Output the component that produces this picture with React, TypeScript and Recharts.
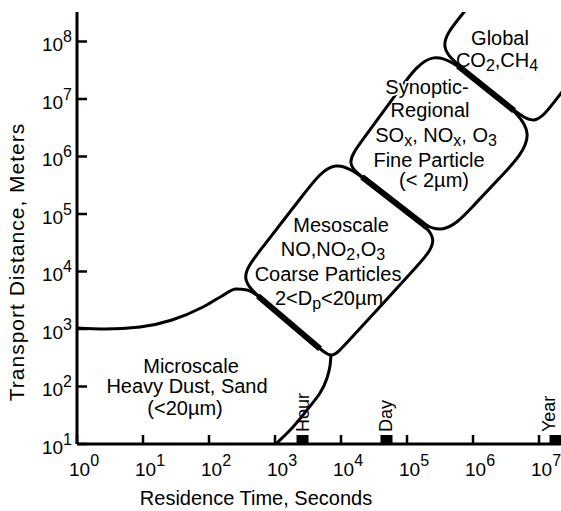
import React from 'react';
import { ComposedChart, Line, Scatter, XAxis, YAxis, Label } from 'recharts';

// ---- axes (log10 exponents) ----
const X_TICKS = [0, 1, 2, 3, 4, 5, 6, 7];
const X_TOP_TICKS = [1, 2, 3, 4, 5, 6, 7];
const Y_TICKS = [1, 2, 3, 4, 5, 6, 7, 8];
const X_DOMAIN: [number, number] = [0, 7.333];
const Y_DOMAIN: [number, number] = [1, 8.513];

// ---- region outlines: x = log10(seconds), y = log10(meters) ----
const mesoscaleOutline = [
  { x: 3.894, y: 6.026 }, { x: 4.456, y: 5.523 }, { x: 5.076, y: 4.970 }, { x: 5.530, y: 4.565 },
  { x: 5.141, y: 4.078 }, { x: 4.038, y: 2.696 }, { x: 3.864, y: 2.478 }, { x: 3.667, y: 2.670 },
  { x: 2.832, y: 3.487 }, { x: 2.439, y: 3.870 }, { x: 2.755, y: 4.337 }, { x: 3.458, y: 5.379 },
];
const synopticOutline = [
  { x: 5.379, y: 7.939 }, { x: 6.018, y: 7.353 }, { x: 6.324, y: 7.071 }, { x: 7.045, y: 6.409 },
  { x: 6.412, y: 5.638 }, { x: 5.998, y: 5.134 }, { x: 5.530, y: 4.565 }, { x: 4.991, y: 5.043 },
  { x: 4.373, y: 5.593 }, { x: 4.061, y: 5.870 }, { x: 4.292, y: 6.235 }, { x: 4.895, y: 7.181 },
];
const globalOutline = [
  { x: 6.292, y: 9.127 }, { x: 5.800, y: 8.421 }, { x: 5.439, y: 7.904 }, { x: 5.888, y: 7.489 },
  { x: 6.586, y: 6.840 }, { x: 6.939, y: 6.513 }, { x: 7.217, y: 6.927 }, { x: 7.864, y: 7.892 },
];
const microscaleTop = [
  { x: 0.0, y: 3.017 }, { x: 0.424, y: 3.0 }, { x: 0.955, y: 3.035 }, { x: 1.439, y: 3.157 },
  { x: 1.909, y: 3.383 }, { x: 2.197, y: 3.574 }, { x: 2.409, y: 3.696 }, { x: 2.576, y: 3.678 },
  { x: 2.742, y: 3.574 },
];
const microscaleRight = [
  { x: 3.848, y: 2.548 }, { x: 3.833, y: 2.357 }, { x: 3.788, y: 2.148 }, { x: 3.682, y: 1.887 },
  { x: 3.485, y: 1.591 }, { x: 3.273, y: 1.296 }, { x: 3.030, y: 1.017 }, { x: 2.985, y: 0.948 },
];
// shared (thick) boundaries
const microMesoBoundary = [{ x: 2.742, y: 3.574 }, { x: 3.682, y: 2.656 }];
const mesoSynopticBoundary = [{ x: 4.318, y: 5.647 }, { x: 5.318, y: 4.755 }];
const synopticGlobalBoundary = [{ x: 5.773, y: 7.577 }, { x: 6.621, y: 6.798 }];

// ---- time markers ----
const timeMarks = [
  { x: 3.417, y: 1, name: 'Hour' },
  { x: 4.689, y: 1, name: 'Day' },
  { x: 7.25, y: 1, name: 'Year' },
];
const timeMarkTextShift: Record<string, number> = { Hour: 0, Day: 0, Year: -7 };

// ---- region labels ----
type Seg = { t: string; sub?: boolean };
const microscaleText: Seg[][] = [[{ t: 'Microscale' }], [{ t: 'Heavy Dust, Sand' }], [{ t: '(<20µm)' }]];
const mesoscaleText: Seg[][] = [
  [{ t: 'Mesoscale' }],
  [{ t: 'NO,NO' }, { t: '2', sub: true }, { t: ',O' }, { t: '3', sub: true }],
  [{ t: 'Coarse Particles' }],
  [{ t: '2<D' }, { t: 'p', sub: true }, { t: '<20µm' }],
];
const synopticText: Seg[][] = [
  [{ t: 'Synoptic-' }],
  [{ t: 'Regional' }],
  [{ t: 'SO' }, { t: 'x', sub: true }, { t: ', NO' }, { t: 'x', sub: true }, { t: ', O' }, { t: '3', sub: true }],
  [{ t: 'Fine Particle' }],
  [{ t: '(< 2µm)' }],
];
const globalText: Seg[][] = [
  [{ t: 'Global' }],
  [{ t: 'CO' }, { t: '2', sub: true }, { t: ',CH' }, { t: '4', sub: true }],
];
const regionLabels = [
  { x: 1.682, y: 2.235, region: 'micro' },
  { x: 3.879, y: 4.687, region: 'meso' },
  { x: 5.364, y: 7.052, region: 'syn' },
  { x: 6.409, y: 7.939, region: 'global' },
];

const FONT = "'Liberation Sans', Arial, Helvetica, sans-serif";
const TEXT_SIZE = 20;
const SUB_SIZE = 16;
const SUB_SHIFT = 4;

const regionLayout: Record<string, { lines: Seg[][]; dx: number[]; dy: number[]; halo?: boolean }> = {
  micro: { lines: microscaleText, dx: [3, -1, -3], dy: [0, 20, 42] },
  meso: { lines: mesoscaleText, dx: [8, 0, -5, -4], dy: [0, 24, 49, 73] },
  syn: { lines: synopticText, dx: [-4, -1, 5, -2, 3], dy: [-2, 21, 46, 71, 91], halo: true },
  global: { lines: globalText, dx: [0, -3], dy: [0, 22] },
};

function renderSegs(segs: Seg[]) {
  let shift = 0;
  return segs.map((s, i) => {
    const target = s.sub ? SUB_SHIFT : 0;
    const dy = target - shift;
    shift = target;
    return (
      <tspan key={i} dy={dy} fontSize={s.sub ? SUB_SIZE : TEXT_SIZE}>
        {s.t}
      </tspan>
    );
  });
}

function RegionLabel(props: any) {
  const { cx, cy, payload } = props;
  const lay = regionLayout[payload.region];
  return (
    <g>
      {lay.lines.map((segs, i) => (
        <text
          key={i}
          x={cx + lay.dx[i]}
          y={cy + lay.dy[i]}
          textAnchor="middle"
          fontFamily={FONT}
          fontSize={TEXT_SIZE}
          fill="#000"
          stroke={lay.halo && i === 0 ? '#fff' : 'none'}
          strokeWidth={lay.halo && i === 0 ? 4 : 0}
          style={{ paintOrder: 'stroke' }}
        >
          {renderSegs(segs)}
        </text>
      ))}
    </g>
  );
}

function TimeMark(props: any) {
  const { cx, cy, payload } = props;
  const tx = cx + 6 + (timeMarkTextShift[payload.name] || 0);
  const ty = cy - 12;
  return (
    <g>
      <rect x={cx - 6} y={cy - 9} width={12} height={9} fill="#000" />
      <text x={tx} y={ty} transform={`rotate(-90 ${tx} ${ty})`} fontFamily={FONT} fontSize={18} fill="#000">
        {payload.name}
      </text>
    </g>
  );
}

function BottomTick(props: any) {
  const { x, y, payload } = props;
  return (
    <g>
      <line x1={x} y1={y} x2={x} y2={y - 9} stroke="#000" strokeWidth={2.5} />
      <text x={x - 8} y={y + 32} fontFamily={FONT} fontSize={19} fill="#000">
        10<tspan dy={-10} fontSize={16}>{payload.value}</tspan>
      </text>
    </g>
  );
}
function TopTick(props: any) {
  const { x, y } = props;
  return <line x1={x} y1={y} x2={x} y2={y + 9} stroke="#000" strokeWidth={2.5} />;
}
function LeftTick(props: any) {
  const { x, y, payload } = props;
  return (
    <g>
      <line x1={x} y1={y} x2={x + 10} y2={y} stroke="#000" strokeWidth={2.5} />
      <text x={x - 5} y={y + 10} textAnchor="end" fontFamily={FONT} fontSize={19} fill="#000">
        10<tspan dy={-9} fontSize={16}>{payload.value}</tspan>
      </text>
    </g>
  );
}
function RightTick(props: any) {
  const { x, y } = props;
  return <line x1={x} y1={y} x2={x - 8} y2={y} stroke="#000" strokeWidth={2.5} />;
}

const thin = { stroke: '#000', strokeWidth: 3, dot: false, activeDot: false, isAnimationActive: false } as const;
const thick = { stroke: '#000', strokeWidth: 6, dot: false, activeDot: false, isAnimationActive: false } as const;

export default function App() {
  return (
    <div style={{ position: 'absolute', left: 0, top: 0, background: '#fff' }}>
      <ComposedChart width={561} height={511} margin={{ top: 12, right: 0, bottom: 0, left: 0 }}>
        <XAxis
          xAxisId={0}
          dataKey="x"
          type="number"
          domain={X_DOMAIN}
          ticks={X_TICKS}
          interval={0}
          allowDataOverflow
          height={67}
          tickSize={0}
          tickMargin={0}
          tickLine={false}
          axisLine={{ stroke: '#000', strokeWidth: 3 }}
          tick={<BottomTick />}
        >
          <Label
            content={() => (
              <text x={256} y={505} textAnchor="middle" fontFamily={FONT} fontSize={20} fill="#000">
                Residence Time, Seconds
              </text>
            )}
          />
        </XAxis>
        <XAxis
          xAxisId="top"
          orientation="top"
          dataKey="x"
          type="number"
          domain={X_DOMAIN}
          ticks={X_TOP_TICKS}
          interval={0}
          allowDataOverflow
          height={0}
          tickSize={0}
          tickMargin={0}
          tickLine={false}
          axisLine={{ stroke: '#000', strokeWidth: 2.5 }}
          tick={<TopTick />}
        />
        <YAxis
          yAxisId={0}
          dataKey="y"
          type="number"
          domain={Y_DOMAIN}
          ticks={Y_TICKS}
          interval={0}
          allowDataOverflow
          width={77}
          tickSize={0}
          tickMargin={0}
          tickLine={false}
          axisLine={{ stroke: '#000', strokeWidth: 3 }}
          tick={<LeftTick />}
        >
          <Label
            content={() => (
              <text
                x={24}
                y={262}
                transform="rotate(-90 24 262)"
                textAnchor="middle"
                fontFamily={FONT}
                fontSize={21}
                letterSpacing={1}
                fill="#000"
              >
                Transport Distance, Meters
              </text>
            )}
          />
        </YAxis>
        <YAxis
          yAxisId="right"
          orientation="right"
          dataKey="y"
          type="number"
          domain={Y_DOMAIN}
          ticks={Y_TICKS}
          interval={0}
          allowDataOverflow
          width={0}
          tickSize={0}
          tickMargin={0}
          tickLine={false}
          axisLine={false}
          tick={<RightTick />}
        />

        <Line data={mesoscaleOutline} dataKey="y" type="basisClosed" {...thin} />
        <Line data={synopticOutline} dataKey="y" type="basisClosed" {...thin} />
        <Line data={globalOutline} dataKey="y" type="basis" {...thin} />
        <Line data={microscaleTop} dataKey="y" type="monotone" {...thin} />
        <Line data={microscaleRight} dataKey="y" type="natural" {...thin} />
        <Line data={microMesoBoundary} dataKey="y" type="linear" {...thick} />
        <Line data={mesoSynopticBoundary} dataKey="y" type="linear" {...thick} />
        <Line data={synopticGlobalBoundary} dataKey="y" type="linear" {...thick} />

        <Scatter data={timeMarks} shape={<TimeMark />} isAnimationActive={false} />
        <Scatter data={regionLabels} shape={<RegionLabel />} isAnimationActive={false} />
      </ComposedChart>
    </div>
  );
}
